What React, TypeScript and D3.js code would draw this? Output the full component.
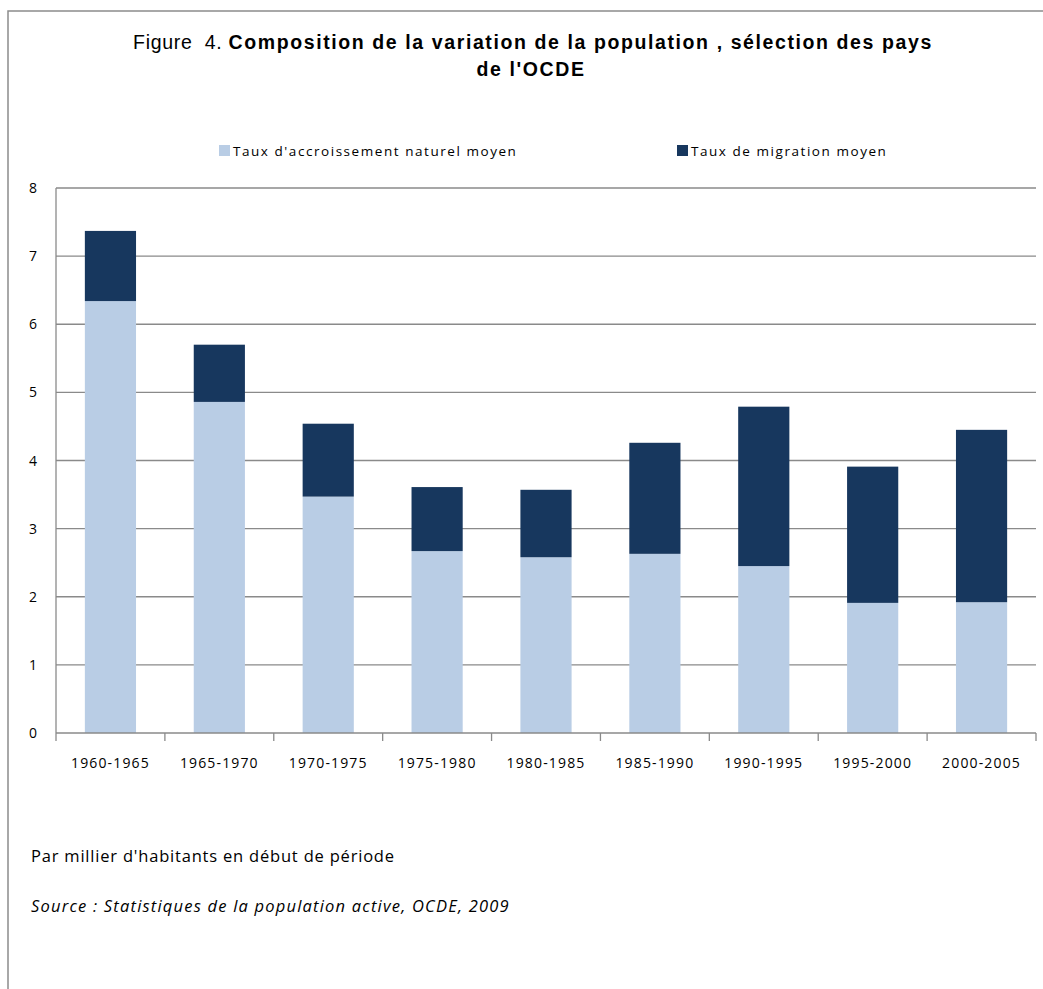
import * as d3 from "d3";

const periods = [
  "1960-1965", "1965-1970", "1970-1975", "1975-1980", "1980-1985",
  "1985-1990", "1990-1995", "1995-2000", "2000-2005",
];
const naturel = [6.34, 4.86, 3.47, 2.67, 2.58, 2.63, 2.45, 1.91, 1.92];
const migration = [1.03, 0.84, 1.07, 0.94, 0.99, 1.63, 2.34, 2.0, 2.53];
const yTicks = [0, 1, 2, 3, 4, 5, 6, 7, 8];

const seriesNames = ["Taux d'accroissement naturel moyen", "Taux de migration moyen"];
const colors = ["#B9CDE5", "#17375E"];

const W = 1043;
const H = 989;
const left = 56;
const right = 1036;
const top = 188;
const bottom = 733;

export default function App() {
  const x = d3.scaleBand<string>().domain(periods).range([left, right]).paddingInner(0.53).paddingOuter(0.265);
  const y = d3.scaleLinear().domain([0, 8]).range([bottom, top]);
  const band = (right - left) / periods.length;

  const rows = periods.map((p, i) => ({ period: p, naturel: naturel[i], migration: migration[i] }));
  const stacked = d3.stack<any>().keys(["naturel", "migration"])(rows);

  const tickFont = "'Open Sans', 'DejaVu Sans', sans-serif";
  const titleFont = "'Liberation Sans', Arial, sans-serif";

  return (
    <svg width={W} height={H} style={{ position: "absolute", left: 0, top: 0, background: "#fff" }}>
      <rect x={8} y={11} width={1100} height={1100} fill="none" stroke="#8c8c8c" strokeWidth={1.5} />

      <text x={533} y={49} textAnchor="middle" fontFamily={titleFont} fontSize={19.5} fill="#000" style={{ whiteSpace: "pre" }}>
        <tspan letterSpacing={0.7}>{"Figure  4. "}</tspan>
        <tspan fontWeight="bold" letterSpacing={1.6}>Composition de la variation de la population , sélection des pays</tspan>
      </text>
      <text x={531} y={76} textAnchor="middle" fontFamily={titleFont} fontSize={19.5} fontWeight="bold" letterSpacing={1.6} fill="#000">
        de l'OCDE
      </text>

      {seriesNames.map((s, i) => {
        const lx = i === 0 ? 219 : 677;
        return (
          <g key={s}>
            <rect x={lx} y={145} width={11} height={11} fill={colors[i]} />
            <text x={lx + 14} y={156} fontFamily={tickFont} fontSize={13.5} letterSpacing={1.55} fill="#000">{s}</text>
          </g>
        );
      })}

      {yTicks.map((t) => (
        <g key={t}>
          {t > 0 && <line x1={left} x2={right} y1={y(t)} y2={y(t)} stroke="#8a8a8a" strokeWidth={1.3} />}
          <text x={33} y={y(t) + 5} textAnchor="middle" fontFamily={tickFont} fontSize={14} fill="#000">{t}</text>
        </g>
      ))}

      {stacked.map((layer, li) => (
        <g key={layer.key} fill={colors[li]}>
          {layer.map((d: any, i: number) => (
            <rect key={i} x={x(periods[i])!} width={x.bandwidth()} y={y(d[1])} height={y(d[0]) - y(d[1])} />
          ))}
        </g>
      ))}

      <line x1={left} x2={left} y1={top} y2={bottom} stroke="#8a8a8a" strokeWidth={1.3} />
      <line x1={left} x2={right} y1={bottom} y2={bottom} stroke="#8a8a8a" strokeWidth={1.3} />
      {d3.range(periods.length + 1).map((i) => (
        <line key={i} x1={left + i * band} x2={left + i * band} y1={bottom} y2={bottom + 8} stroke="#8a8a8a" strokeWidth={1.3} />
      ))}
      {periods.map((p) => (
        <text key={p} x={x(p)! + x.bandwidth() / 2} y={768} textAnchor="middle" fontFamily={tickFont} fontSize={14} letterSpacing={1.15} fill="#000">{p}</text>
      ))}

      <text x={31} y={862} fontFamily={tickFont} fontSize={16.5} letterSpacing={0.8} fill="#000">Par millier d'habitants en début de période</text>
      <text x={31} y={912} fontFamily={tickFont} fontSize={16.5} fontStyle="italic" letterSpacing={1.2} fill="#000">Source : Statistiques de la population active, OCDE, 2009</text>
    </svg>
  );
}
